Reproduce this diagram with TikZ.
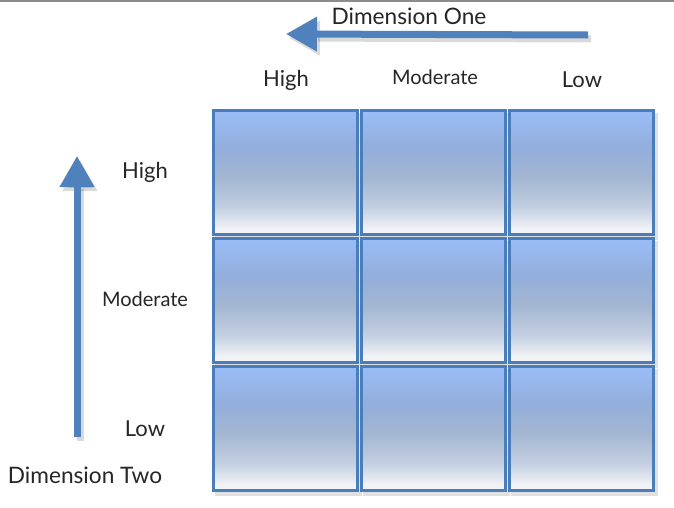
\documentclass[tikz,border=0pt]{standalone}
\usepackage{fontspec}
\setmainfont{Lato}
\usetikzlibrary{arrows.meta}
\definecolor{celltop}{HTML}{9ABDF8}
\definecolor{cellmid}{HTML}{93AEDC}
\definecolor{cellmidb}{HTML}{A3B6D2}
\definecolor{cellbot}{HTML}{F2F3F6}
\definecolor{cellborder}{HTML}{4A7EBB}
\definecolor{arrowblue}{HTML}{4F81BD}
\pgfdeclareverticalshading{cellshade}{100bp}{color(0bp)=(cellbot); color(27bp)=(cellbot); color(36bp)=(cellmidb!60!cellbot); color(48bp)=(cellmidb); color(60bp)=(cellmid); color(75bp)=(celltop); color(100bp)=(celltop)}
\tikzset{
  cell/.style={draw=cellborder, line width=2.25pt, shading=cellshade, minimum width=108pt, minimum height=93pt, inner sep=0pt},
  cellshadow/.style={fill=black, opacity=0.12, minimum width=110.25pt, minimum height=95.25pt, inner sep=0pt},
  lbl/.style={font=\fontsize{16.5pt}{18pt}\selectfont, inner sep=0pt, text=black!85},
  modlbl/.style={lbl, font=\fontsize{15pt}{17pt}\selectfont},
  dimlbl/.style={lbl, font=\fontsize{17pt}{19pt}\selectfont},
  dimarrow/.style={draw=arrowblue, line width=5.25pt, -{Triangle[length=23.25pt, width=24.75pt]}},
  arrowshadow/.style={draw=black, opacity=0.15, line width=5.25pt, -{Triangle[length=23.25pt, width=24.75pt]}}
}
\begin{document}
\begin{tikzpicture}[x=0.75pt, y=-0.75pt]
\useasboundingbox (0,0) rectangle (674,507);
\fill[white] (0,0) rectangle (674,507);
\coordinate (tl) at (0,0.8);
\coordinate (tr) at (674,0.8);
\draw[gray!90, line width=1.2pt] (tl) -- (tr);
% shadows of cells
\foreach \c/\x in {1/285,2/433,3/581}{
  \foreach \r/\y in {1/172.5,2/300,3/428}{
    \node[cellshadow] (s\r\c) at (\x+3,\y+4) {};
  }
}
\foreach \c/\x in {1/285,2/433,3/581}{
  \foreach \r/\y in {1/172.5,2/300,3/428}{
    \node[cell] (c\r\c) at (\x,\y) {};
  }
}
% top labels
\node[lbl] (th) at (286,80) {High};
\node[modlbl] (tm) at (435,77) {Moderate};
\node[lbl] (tlow) at (582,80) {Low};
% left labels
\node[lbl] (lh) at (145,172) {High};
\node[modlbl] (lm) at (145,299) {Moderate};
\node[lbl] (ll) at (145,429) {Low};
% dimension labels
\node[dimlbl] (d1) at (409,16) {Dimension One};
\node[dimlbl] (d2) at (85,475) {Dimension Two};
% arrows
\coordinate (h1) at (588,35);
\coordinate (h2) at (286,34);
\coordinate (v1) at (77,437);
\coordinate (v2) at (77,156);
\coordinate (h1s) at (591,39);
\coordinate (h2s) at (289,38);
\coordinate (v1s) at (80,441);
\coordinate (v2s) at (80,160);
\draw[arrowshadow] (h1s) -- (h2s);
\draw[arrowshadow] (v1s) -- (v2s);
\draw[dimarrow] (h1) -- (h2);
\draw[dimarrow] (v1) -- (v2);
\end{tikzpicture}
\end{document}
